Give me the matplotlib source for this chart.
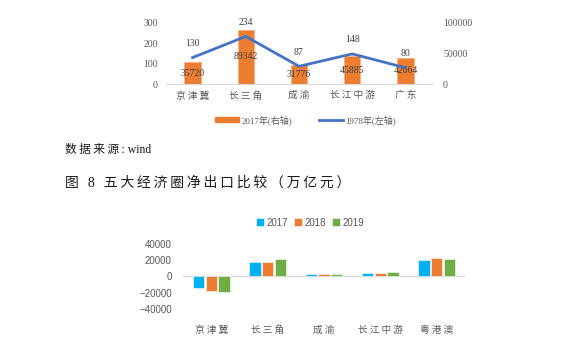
import numpy as np
import matplotlib
matplotlib.use("Agg")
import matplotlib.pyplot as plt

plt.rcParams['font.family'] = ['Noto Sans CJK SC', 'DejaVu Sans']

# top chart: 2017 bars (right axis), 1978 line (left axis)
regions_top = ['京津冀', '长三角', '成渝', '长江中游', '广东']
val_2017 = [35720, 89342, 31776, 45885, 42664]
val_1978 = [130, 234, 87, 148, 80]

# bottom chart: net exports
regions_bot = ['京津冀', '长三角', '成渝', '长江中游', '粤港澳']
years = ['2017', '2018', '2019']
net_2017 = [-15000, 17400, 2400, 4000, 20200]
net_2018 = [-18600, 18000, 2800, 4000, 22600]
net_2019 = [-19400, 21000, 3200, 5200, 21000]

serif = ['Liberation Serif', 'Noto Sans CJK SC', 'DejaVu Sans']
sans = ['Liberation Sans', 'Noto Sans CJK SC', 'DejaVu Sans']
grey = '#595959'


def spaced(s):
    # the source uses wide letter spacing
    return '\u2009'.join(s)


fig = plt.figure(figsize=(5.88, 3.58), dpi=100)

# ---- top chart
ax1 = fig.add_axes([166/588, 1-84/358, 266/588, 61/358])
ax1b = ax1.twinx()
x = np.arange(len(regions_top))
bars = ax1b.bar(x, val_2017, width=0.31, color='#ED7D31', edgecolor='#F4B183', linewidth=0.6, zorder=2)
ax1b.bar_label(bars, labels=[str(v) for v in val_2017], label_type='center',
               fontsize=7, family=serif, color='#404040')
ax1b.set_ylim(0, 100000)
ax1b.set_yticks([0, 50000, 100000])
ax1.set_ylim(0, 300)
ax1.set_yticks([0, 100, 200, 300])
ax1.set_zorder(ax1b.get_zorder() + 1)
ax1.patch.set_visible(False)
ax1.plot(x, val_1978, color='#4472C4', lw=2, zorder=3)
for xi, v in zip(x, val_1978):
    ax1.annotate(str(v), (xi, v), xytext=(0, 7), textcoords='offset points',
                 ha='center', va='bottom', fontsize=7, family=serif,
                 color='#404040', annotation_clip=False)
ax1.set_xlim(-0.5, len(x) - 0.5)
ax1.set_xticks(x)
ax1.set_xticklabels([spaced(r) for r in regions_top], fontsize=7.5, family=serif, color=grey)
for a in (ax1, ax1b):
    for s in a.spines.values():
        s.set_visible(False)
    a.tick_params(length=0, labelsize=7, labelcolor=grey)
    for lbl in a.get_yticklabels():
        lbl.set_family(serif)
ax1.spines['bottom'].set_visible(True)
ax1.spines['bottom'].set_color('#D9D9D9')
ax1.tick_params(axis='y', pad=6)
ax1b.tick_params(axis='y', pad=8)
ax1.tick_params(axis='x', pad=5)

h1 = plt.Rectangle((0, 0), 1, 1, color='#ED7D31')
h2 = plt.Line2D([0], [0], color='#4472C4', lw=2)
fig.legend([h1, h2], ['2017年(右轴)', '1978年(左轴)'], loc='center',
           bbox_to_anchor=(0.52, 1-120/358), ncol=2, frameon=False,
           prop={'family': serif, 'size': 6.5}, handlelength=2.6,
           handleheight=0.5, columnspacing=3, handletextpad=0.3,
           labelcolor=grey)

# ---- texts between charts
fig.text(65/588, 1-150/358, spaced('数据来源:') + ' wind', fontsize=8.5, family=serif,
         va='center', ha='left', color='#1a1a1a')
fig.text(65/588, 1-183/358, spaced('图 8 五大经济圈净出口比较（万亿元）'), fontsize=10,
         family=serif, va='center', ha='left', color='#1a1a1a')

# ---- bottom chart
ax2 = fig.add_axes([183/588, 1-308.7/358, 282/588, 64.7/358])
xb = np.arange(len(regions_bot))
w = 0.2
colors = ['#00B0F0', '#ED7D31', '#70AD47']
for i, (vals, c, yr) in enumerate(zip([net_2017, net_2018, net_2019], colors, years)):
    ax2.bar(xb + (i - 1) * 0.225, vals, width=w, color=c, edgecolor='white',
            linewidth=0.4, label=yr, zorder=2)
ax2.axhline(0, color='#D9D9D9', lw=1, zorder=1)
ax2.set_ylim(-40000, 40000)
ax2.set_yticks([-40000, -20000, 0, 20000, 40000])
ax2.set_yticklabels(['−40000', '−20000', '0', '20000', '40000'])
ax2.set_xlim(-0.5, len(xb) - 0.5)
ax2.set_xticks(xb)
ax2.set_xticklabels([spaced(r) for r in regions_bot], fontsize=7.5, family=serif, color=grey)
for s in ax2.spines.values():
    s.set_visible(False)
ax2.tick_params(length=0, labelsize=7, labelcolor=grey)
ax2.tick_params(axis='x', pad=12)
ax2.tick_params(axis='y', pad=8)
for lbl in ax2.get_yticklabels():
    lbl.set_family(sans)
fig.legend(*ax2.get_legend_handles_labels(), loc='center',
           bbox_to_anchor=(0.527, 1-222.7/358), ncol=3, frameon=False,
           prop={'family': sans, 'size': 7}, handlelength=0.9,
           handleheight=0.9, columnspacing=0.6, handletextpad=0.2,
           labelcolor=grey)

fig.savefig('out.png', dpi=100)
